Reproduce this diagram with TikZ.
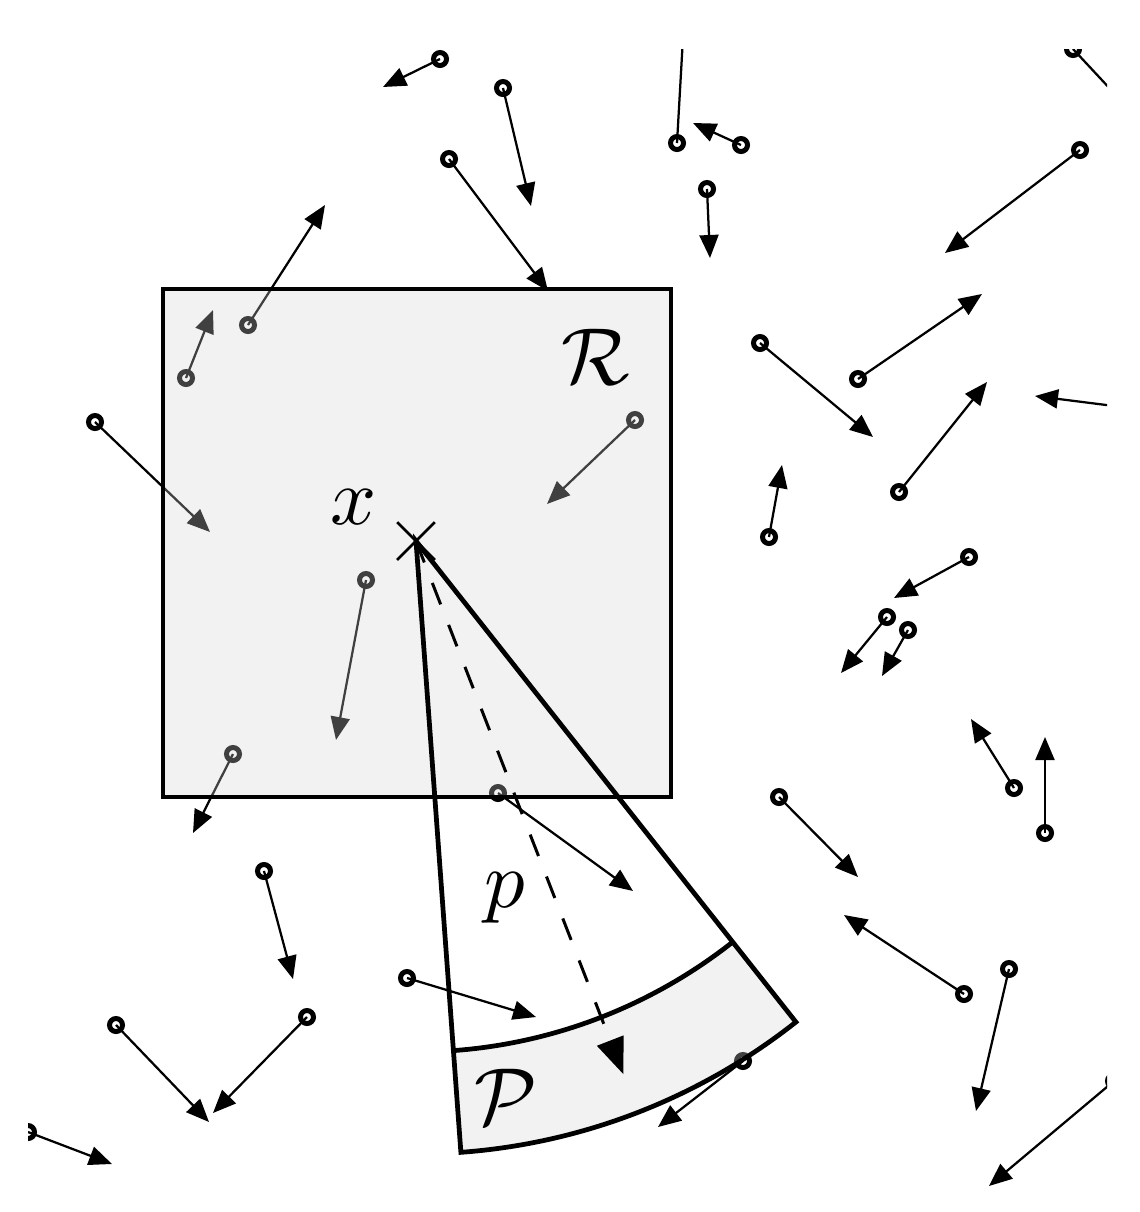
\documentclass[tikz,border=0pt]{standalone}
\usepackage{amssymb, amsmath}
\usepackage{tikz}
\usetikzlibrary{arrows.meta, shapes.misc}
\definecolor{shade}{RGB}{212, 212, 212}

\begin{document}
\begin{tikzpicture}[x=0.2mm, y=-0.2mm,
  particle/.style={circle, draw, line width=1mm, minimum size=2.6mm, inner sep=0pt},
  velocity/.style={line width=0.45mm, -{Triangle[length=4.6mm, width=3.8mm]}},
  region/.style={fill=shade, opacity=0.3},
  border/.style={line width=0.95mm},
  symbol/.style={scale=4.6, inner sep=0pt}]
  \useasboundingbox (0,0) rectangle (1140,1212);
  \coordinate (o) at (416,541);

  % Particles
  \begin{scope}
    \clip (28,49) rectangle (1107,1212);
    \foreach \cx/\cy/\hx/\hy [count=\i] in {
      440/59/383/87, 503/88/531/206, 449/159/548/291, 677/143/684/20,
      741/145/693/123, 707/189/710/258, 1080/150/945/253, 1073/49/1140/121,
      248/325/325/205, 186/378/213/310, 95/422/210/532, 635/420/547/504,
      366/580/336/740, 233/754/193/833, 760/343/873/437, 858/379/982/294,
      899/492/987/382, 1130/408/1035/396, 769/537/782/465, 969/557/894/598,
      887/617/841/673, 908/630/882/676, 1014/788/971/719, 1045/833/1045/737,
      498/793/633/891, 779/797/858/877, 964/994/844/915, 1009/969/976/1111,
      1114/1081/989/1186, 264/871/293/979, 407/978/536/1017, 116/1025/209/1122,
      307/1017/213/1113, 28/1132/112/1164, 743/1061/658/1127}{
      \node [particle] (c\i) at (\cx,\cy) {};
      \coordinate (h\i) at (\hx,\hy);
      \draw [velocity] (c\i.center) -- (h\i);
    }
  \end{scope}

  % Region
  \fill [region] (163,289) rectangle (671,797);
  \draw [border] (163,289) rectangle (671,797);

  % Patch
  \fill [region] (o) ++(85.8:511) arc [start angle=85.8, end angle=51.7, radius=511]
    -- ++(51.7:102) arc [start angle=51.7, end angle=85.8, radius=613] -- cycle;
  \draw [border] (o) -- ++(85.8:613) arc [start angle=85.8, end angle=51.7, radius=613] -- cycle;
  \draw [border] (o) ++(85.8:511) arc [start angle=85.8, end angle=51.7, radius=511];

  % Direction
  \path (o) ++(68.75:572) coordinate (q);
  \draw [line width=0.6mm, dash pattern=on 4.6mm off 4.4mm,
    -{Triangle[length=7.2mm, width=5.6mm]}] (o) -- (q);
  \node [cross out, draw, line width=0.55mm, minimum size=7mm, inner sep=0pt] (xm) at (o) {};

  \node [symbol] (xlab) at (354,507) {$x$};
  \node [symbol] (rlab) at (596,357) {$\mathcal{R}$};
  \node [symbol] (plab) at (505,898) {$p$};
  \node [symbol] (Plab) at (506,1097) {$\mathcal{P}$};
\end{tikzpicture}
\end{document}
